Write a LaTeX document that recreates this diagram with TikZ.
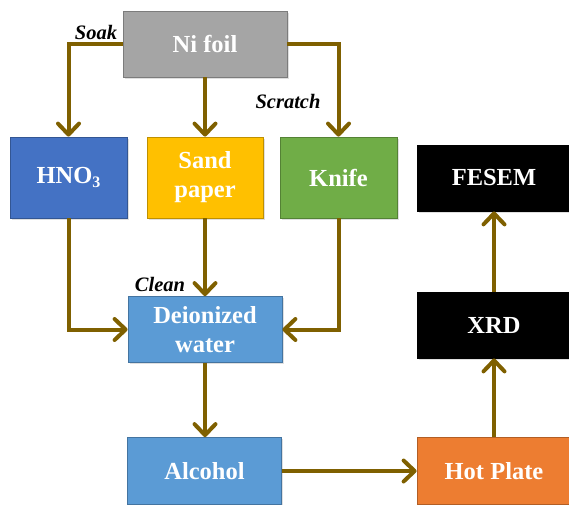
\documentclass[tikz,border=0pt]{standalone}
\usepackage{fontspec}
\setmainfont{Liberation Serif}
\usetikzlibrary{arrows.meta,shadows}
\definecolor{arrcol}{RGB}{127,96,0}
\definecolor{nigray}{RGB}{165,165,165}
\definecolor{hnoblue}{RGB}{68,114,196}
\definecolor{sandyel}{RGB}{255,192,0}
\definecolor{knifegreen}{RGB}{112,173,71}
\definecolor{waterblue}{RGB}{91,155,213}
\definecolor{hotorange}{RGB}{237,125,49}
\tikzset{
  box/.style={rectangle, draw=#1!75!black, fill=#1, line width=0.8pt, text=white,
    font=\fontsize{24.5}{29}\selectfont\bfseries, align=center, inner sep=2pt,
    drop shadow={opacity=0.25, shadow xshift=1.5pt, shadow yshift=-1.5pt}},
  arr/.style={draw=arrcol, line width=4pt, -{Straight Barb[length=11pt,width=21pt,line width=0pt 1,round]}},
  lbl/.style={font=\fontsize{20.5}{22}\selectfont\bfseries\itshape, text=black, inner sep=0pt}
}
\begin{document}
\begin{tikzpicture}[x=1pt,y=-1pt]
\useasboundingbox (0,0) rectangle (569,504);
\clip (0,0) rectangle (569,504);
\node[box=nigray, minimum width=164pt, minimum height=66pt] (ni) at (205,44) {Ni foil};
\node[box=hnoblue, minimum width=117pt, minimum height=81pt] (hno) at (68.5,177.5) {HNO\raisebox{-0.35ex}{\fontsize{16}{16}\selectfont 3}};
\node[box=sandyel, minimum width=116pt, minimum height=81pt] (sand) at (205,177.5) {Sand\\paper};
\node[box=knifegreen, minimum width=117pt, minimum height=81pt] (knife) at (338.5,177.5) {Knife};
\node[box=black, draw=black, minimum width=154pt, minimum height=66pt] (fesem) at (494,178) {FESEM};
\node[box=waterblue, minimum width=154pt, minimum height=66pt] (deion) at (205,329.5) {Deionized\\water};
\node[box=black, draw=black, minimum width=154pt, minimum height=66pt] (xrd) at (494,325) {XRD};
\node[box=waterblue, minimum width=154pt, minimum height=67pt] (alc) at (204.5,471) {Alcohol};
\node[box=hotorange, minimum width=154pt, minimum height=67pt] (hot) at (494,471) {Hot Plate};
\draw[arr] (ni.west) -| (hno.north);
\draw[arr] (ni.south) -- (sand.north);
\draw[arr] (ni.east) -| (knife.north);
\draw[arr] (hno.south) |- (deion.west);
\draw[arr] (sand.south) -- (deion.north);
\draw[arr] (knife.south) |- (deion.east);
\draw[arr] (deion.south) -- (alc.north -| deion.south);
\draw[arr] (alc.east) -- (hot.west);
\draw[arr] (hot.north) -- (xrd.south);
\draw[arr] (xrd.north) -- (fesem.south);
\node[lbl] (soak) at (96,32) {Soak};
\node[lbl] (scratch) at (288,101) {Scratch};
\node[lbl] (clean) at (160,284) {Clean};
\end{tikzpicture}
\end{document}
